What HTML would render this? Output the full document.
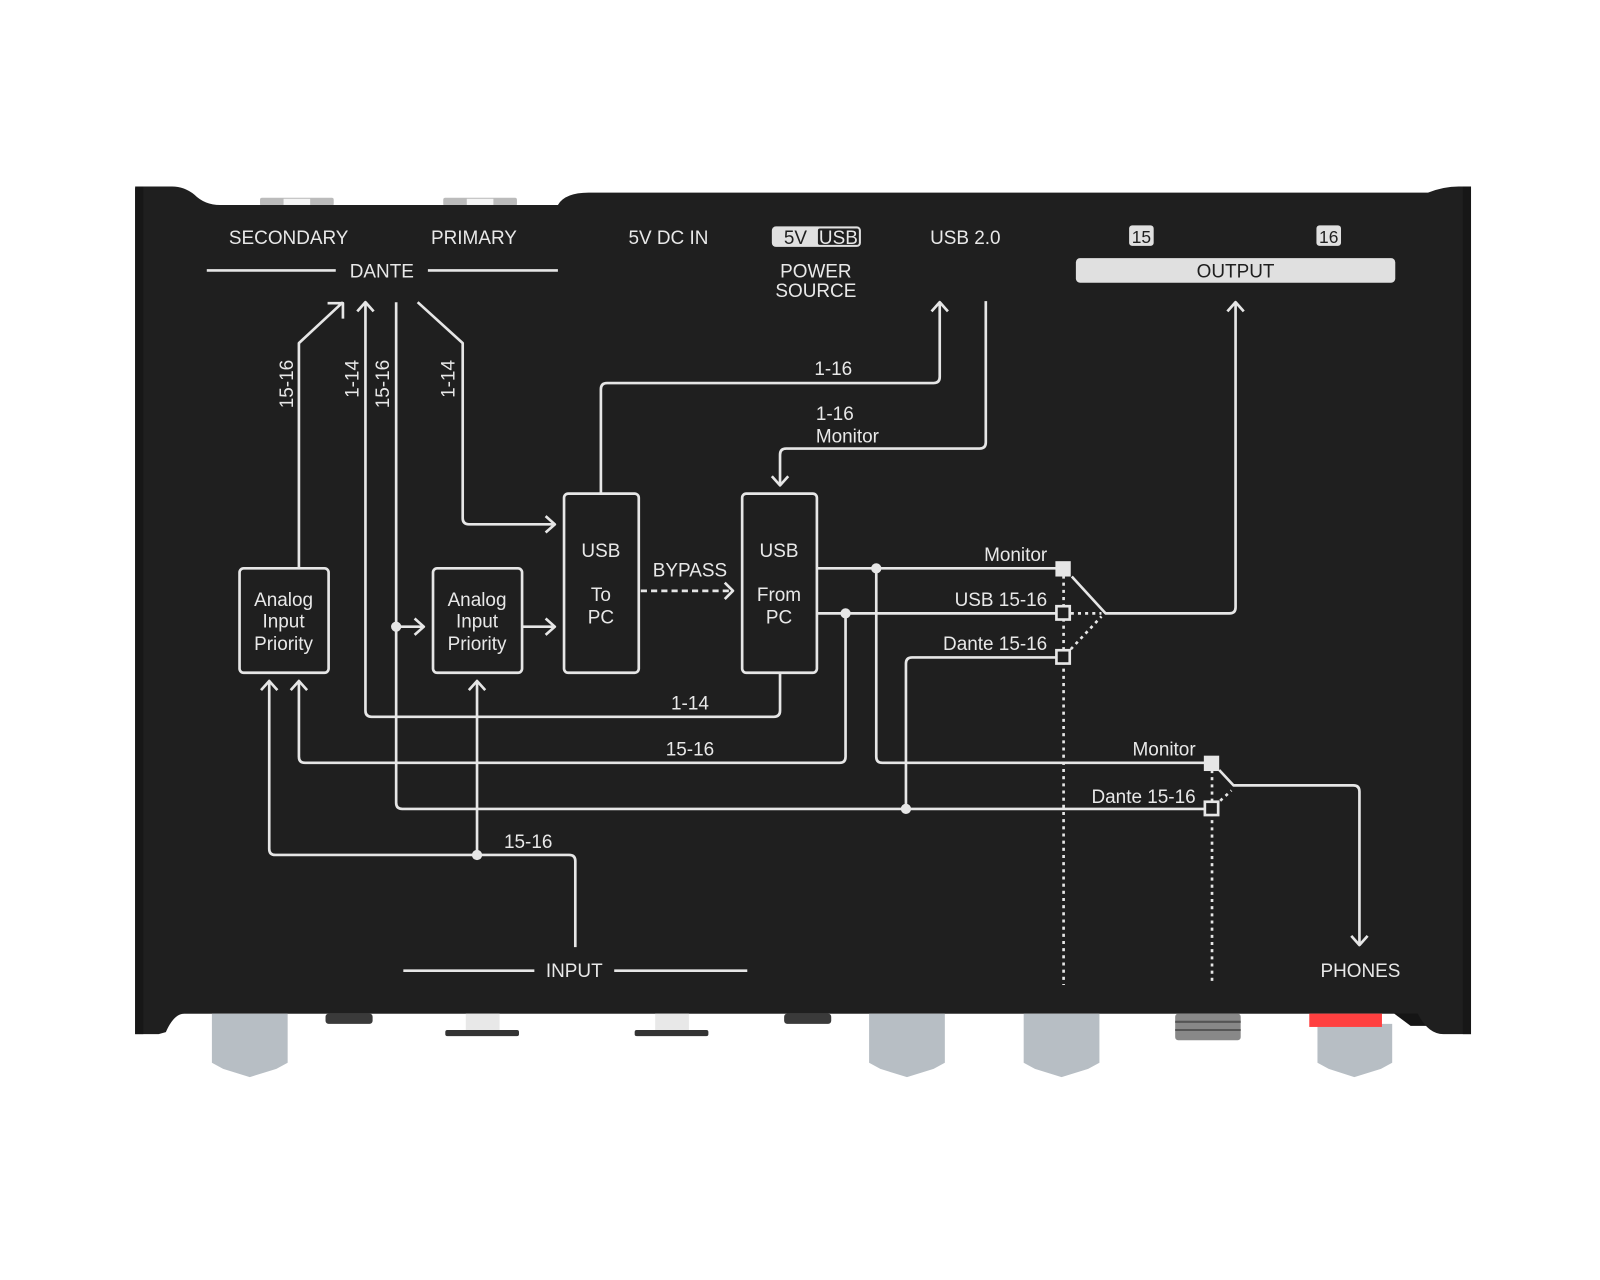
<!DOCTYPE html>
<html><head><meta charset="utf-8"><style>
html,body{margin:0;padding:0;background:#fff}
svg{display:block}
text{font-family:"Liberation Sans",sans-serif;fill:#e8e8e8;font-size:18.5px}
</style></head><body>
<svg width="1600" height="1280" viewBox="0 0 1563 1250" xmlns="http://www.w3.org/2000/svg">
<!-- top connectors -->
<g fill="#bbb"><rect x="254" y="193" width="72" height="8" rx="2"/><rect x="433" y="193" width="72" height="8" rx="2"/></g>
<g fill="#f4f4f4"><rect x="277" y="194" width="26" height="6"/><rect x="456" y="194" width="26" height="6"/></g>
<!-- bottom strip -->
<path d="M150 985 H1420 V1002 H1378 L1362 990 H170 L160 1002 H132 Z" fill="#151515"/>
<!-- body -->
<path d="M132 184 Q132 182 140 182 H168 Q180 182 190 190 Q200 200 215 200 H545 Q552 188 575 188 H1395 Q1410 182 1425 182 H1437 V1010 H1410 Q1395 1010 1385 990 H180 Q170 990 162 1008 L155 1010 H132 Z" fill="#1f1f1f"/>
<rect x="132" y="182" width="8" height="828" fill="#171717"/>
<rect x="1429" y="182" width="8" height="828" fill="#171717"/>
<!-- bottom parts -->
<g fill="#3a3a3a"><rect x="318" y="990" width="46" height="10" rx="3"/><rect x="766" y="990" width="46" height="10" rx="3"/></g>
<g fill="#e8e8e8"><rect x="455" y="990" width="33" height="16"/><rect x="640" y="990" width="33" height="16"/></g>
<g fill="#333"><rect x="435" y="1006" width="72" height="6" rx="2"/><rect x="620" y="1006" width="72" height="6" rx="2"/></g>
<g fill="#b7bec4">
<path d="M207 990 H281 V1038 L270 1044 L244 1052 L218 1044 L207 1038 Z"/>
<path d="M849 990 H923 V1038 L912 1044 L886 1052 L860 1044 L849 1038 Z"/>
<path d="M1000 990 H1074 V1038 L1063 1044 L1037 1052 L1011 1044 L1000 1038 Z"/>
<path d="M1287 1000 H1360 V1038 L1349 1044 L1323 1052 L1298 1044 L1287 1038 Z"/>
</g>
<rect x="1279" y="990" width="71" height="13" fill="#ff4040"/>
<rect x="1148" y="990" width="64" height="26" fill="#888" rx="3"/>
<g stroke="#555" stroke-width="2"><line x1="1148" y1="998" x2="1212" y2="998"/><line x1="1148" y1="1006" x2="1212" y2="1006"/></g>

<!-- labels -->
<text x="282" y="238" text-anchor="middle">SECONDARY</text>
<text x="463" y="238" text-anchor="middle">PRIMARY</text>
<text x="373" y="271" text-anchor="middle">DANTE</text>
<text x="653" y="238" text-anchor="middle">5V DC IN</text>
<rect x="754" y="221" width="87" height="20" rx="4" fill="#e0e0e0"/>
<rect x="799" y="223" width="40" height="16" rx="2" fill="#1f1f1f"/>
<text x="777" y="238" text-anchor="middle" style="fill:#1f1f1f">5V</text>
<text x="819" y="238" text-anchor="middle">USB</text>
<text x="797" y="271" text-anchor="middle">POWER</text>
<text x="797" y="290" text-anchor="middle">SOURCE</text>
<text x="943" y="238" text-anchor="middle">USB 2.0</text>
<rect x="1103" y="220" width="24" height="20" rx="3" fill="#e0e0e0"/>
<rect x="1286" y="220" width="24" height="20" rx="3" fill="#e0e0e0"/>
<text x="1115" y="237" text-anchor="middle" style="fill:#1f1f1f;font-size:17px">15</text>
<text x="1298" y="237" text-anchor="middle" style="fill:#1f1f1f;font-size:17px">16</text>
<rect x="1051" y="252" width="312" height="24" rx="4" fill="#e0e0e0"/>
<text x="1207" y="271" text-anchor="middle" style="fill:#1f1f1f">OUTPUT</text>
<text x="561" y="954" text-anchor="middle">INPUT</text>
<text x="1329" y="954" text-anchor="middle">PHONES</text>

<g stroke="#e6e6e6" stroke-width="2.6" fill="none" stroke-linejoin="round">
<line x1="202" y1="264" x2="328" y2="264"/><line x1="418" y1="264" x2="545" y2="264"/>
<line x1="394" y1="948" x2="522" y2="948"/><line x1="600" y1="948" x2="730" y2="948"/>
<!-- boxes -->
<rect x="234" y="555" width="87" height="102" rx="4"/>
<rect x="423" y="555" width="87" height="102" rx="4"/>
<rect x="551" y="482" width="73" height="175" rx="4"/>
<rect x="725" y="482" width="73" height="175" rx="4"/>
<!-- dante lines -->
<path d="M292 555 V335 L335 295"/><path d="M320 296 H335 V311"/>
<path d="M357 295 V694 Q357 700 363 700 H756 Q762 700 762 694 V657"/><path d="M349 304 L357 295 L365 304"/>
<path d="M387 295 V784 Q387 790 393 790 H1177"/>
<path d="M408 295 L452 335 V506 Q452 512 458 512 H541"/><path d="M533 504 L542 512 L533 520"/>
<path d="M387 612 H413"/><path d="M405 604 L414 612 L405 620"/>
<path d="M510 612 H541"/><path d="M533 604 L542 612 L533 620"/>
<!-- usb -->
<path d="M587 482 V380 Q587 374 593 374 H912 Q918 374 918 368 V296"/><path d="M910 304 L918 295 L926 304"/>
<path d="M963 294 V432 Q963 438 957 438 H768 Q762 438 762 444 V473"/><path d="M754 465 L762 474 L770 465"/>
<!-- from pc outputs -->
<path d="M798 555 H1032"/>
<path d="M856 555 V739 Q856 745 862 745 H1177"/>
<path d="M798 599 H1032"/>
<path d="M826 599 V739 Q826 745 820 745 H298 Q292 745 292 739 V666"/><path d="M284 674 L292 665 L300 674"/>
<path d="M1032 642 H891 Q885 642 885 648 V790"/>
<path d="M1047 563 L1080 599 H1201 Q1207 599 1207 593 V296"/><path d="M1199 304 L1207 295 L1215 304"/>
<path d="M1191 752 L1205 767 H1322 Q1328 767 1328 773 V922"/><path d="M1320 914 L1328 923 L1336 914"/>
<!-- input -->
<path d="M562 925 V841 Q562 835 556 835 H269 Q263 835 263 829 V666"/><path d="M255 674 L263 665 L271 674"/>
<path d="M466 835 V666"/><path d="M458 674 L466 665 L474 674"/>
<!-- bypass -->
<path d="M626 577 H714" stroke-dasharray="6 4"/><path d="M708 569 L716 577 L708 585"/>
</g>
<!-- dotted -->
<g stroke="#e6e6e6" stroke-width="2.6" fill="none" stroke-dasharray="3 4">
<path d="M1039 562 V962"/><path d="M1046 599 H1076"/><path d="M1046 634 L1076 602"/>
<path d="M1184 752 V962"/><path d="M1192 782 L1203 772"/>
</g>
<!-- squares and dots -->
<g fill="#e6e6e6"><rect x="1031" y="548" width="15" height="15"/><rect x="1176" y="738" width="15" height="15"/>
<circle cx="856" cy="555" r="5"/><circle cx="826" cy="599" r="5"/><circle cx="387" cy="612" r="5"/><circle cx="885" cy="790" r="5"/><circle cx="466" cy="835" r="5"/></g>
<g fill="#1f1f1f" stroke="#e6e6e6" stroke-width="2.6"><rect x="1032" y="592" width="13" height="13"/><rect x="1032" y="635" width="13" height="13"/><rect x="1177" y="783" width="13" height="13"/></g>
<!-- line labels -->
<text x="814" y="366" text-anchor="middle">1-16</text>
<text x="797" y="410">1-16</text><text x="797" y="432">Monitor</text>
<text x="674" y="563" text-anchor="middle">BYPASS</text>
<text x="587" y="544" text-anchor="middle">USB</text><text x="587" y="587" text-anchor="middle">To</text><text x="587" y="609" text-anchor="middle">PC</text>
<text x="761" y="544" text-anchor="middle">USB</text><text x="761" y="587" text-anchor="middle">From</text><text x="761" y="609" text-anchor="middle">PC</text>
<text x="277" y="592" text-anchor="middle">Analog</text><text x="277" y="613" text-anchor="middle">Input</text><text x="277" y="635" text-anchor="middle">Priority</text>
<text x="466" y="592" text-anchor="middle">Analog</text><text x="466" y="613" text-anchor="middle">Input</text><text x="466" y="635" text-anchor="middle">Priority</text>
<text x="1023" y="548" text-anchor="end">Monitor</text>
<text x="1023" y="592" text-anchor="end">USB 15-16</text>
<text x="1023" y="635" text-anchor="end">Dante 15-16</text>
<text x="1168" y="738" text-anchor="end">Monitor</text>
<text x="1168" y="784" text-anchor="end">Dante 15-16</text>
<text x="674" y="693" text-anchor="middle">1-14</text>
<text x="674" y="738" text-anchor="middle">15-16</text>
<text x="516" y="828" text-anchor="middle">15-16</text>
<text transform="translate(286,375) rotate(-90)" text-anchor="middle">15-16</text>
<text transform="translate(350,370) rotate(-90)" text-anchor="middle">1-14</text>
<text transform="translate(380,375) rotate(-90)" text-anchor="middle">15-16</text>
<text transform="translate(444,370) rotate(-90)" text-anchor="middle">1-14</text>
</svg>
</body></html>
